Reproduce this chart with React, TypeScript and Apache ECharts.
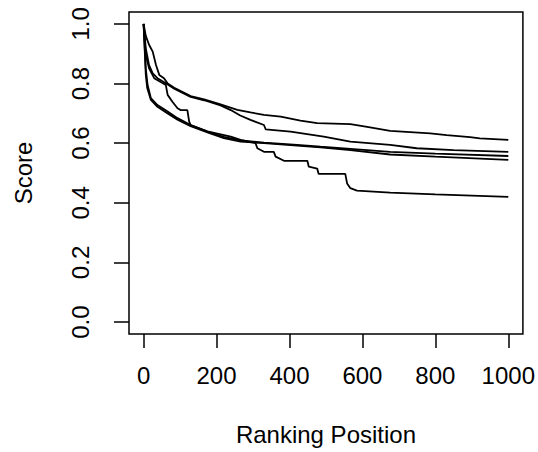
import React, { useEffect, useRef } from "react";
import * as echarts from "echarts";

const xTicks = [0, 200, 400, 600, 800, 1000];
const yTicks = [0, 0.2, 0.4, 0.6, 0.8, 1.0];

const posA = [0, 6, 15, 25, 34, 43, 56, 66, 84, 129, 166, 211, 257, 293, 330, 376, 430, 476, 567, 613, 676, 786, 831, 895, 922, 1000];
const scoreA = [1.0, 0.96, 0.93, 0.907, 0.862, 0.829, 0.818, 0.8, 0.786, 0.758, 0.747, 0.73, 0.712, 0.703, 0.695, 0.689, 0.676, 0.667, 0.664, 0.655, 0.641, 0.633, 0.627, 0.62, 0.616, 0.611];

const posB = [0, 6, 15, 25, 38, 61, 84, 129, 166, 211, 239, 265, 293, 330, 335, 403, 494, 567, 676, 749, 850, 1000];
const scoreB = [1.0, 0.918, 0.862, 0.834, 0.818, 0.801, 0.783, 0.755, 0.744, 0.727, 0.711, 0.693, 0.678, 0.661, 0.646, 0.639, 0.622, 0.605, 0.594, 0.583, 0.577, 0.571];

const posC = [0, 6, 11, 20, 38, 66, 93, 129, 175, 220, 266, 330, 421, 485, 567, 676, 800, 1000];
const scoreC = [1.0, 0.85, 0.795, 0.751, 0.728, 0.706, 0.684, 0.661, 0.639, 0.621, 0.609, 0.602, 0.594, 0.588, 0.581, 0.571, 0.565, 0.557];

const posD = [0, 6, 10, 20, 38, 66, 93, 129, 175, 220, 266, 330, 421, 485, 567, 676, 800, 1000];
const scoreD = [1.0, 0.83, 0.785, 0.745, 0.722, 0.7, 0.679, 0.657, 0.636, 0.617, 0.605, 0.6, 0.592, 0.586, 0.577, 0.562, 0.555, 0.544];

const posE = [0, 6, 15, 29, 61, 66, 79, 93, 102, 120, 125, 129, 175, 239, 266, 307, 312, 330, 357, 362, 385, 449, 453, 476, 480, 553, 558, 567, 585, 676, 800, 1000];
const scoreE = [1.0, 0.896, 0.851, 0.818, 0.795, 0.762, 0.739, 0.717, 0.711, 0.711, 0.672, 0.661, 0.64, 0.622, 0.611, 0.6, 0.583, 0.571, 0.571, 0.555, 0.541, 0.541, 0.521, 0.515, 0.497, 0.497, 0.465, 0.449, 0.441, 0.434, 0.428, 0.42];

const seriesList = [
  { name: "A", pos: posA, score: scoreA },
  { name: "B", pos: posB, score: scoreB },
  { name: "C", pos: posC, score: scoreC },
  { name: "D", pos: posD, score: scoreD },
  { name: "E", pos: posE, score: scoreE },
];

const FONT = "'Liberation Sans', Arial, Helvetica, sans-serif";

export default function App() {
  const ref = useRef<HTMLDivElement>(null);
  useEffect(() => {
    document.body.style.margin = "0";
    if (!ref.current) return;
    const chart = echarts.init(ref.current, null, { renderer: "svg" });
    chart.setOption({
      animation: false,
      backgroundColor: "#ffffff",
      grid: {
        left: 129,
        top: 12,
        right: 15,
        bottom: 118,
        show: true,
        borderColor: "#000",
        borderWidth: 1.5,
        backgroundColor: "transparent",
      },
      xAxis: {
        type: "value",
        min: -40,
        max: 1040,
        name: "Ranking Position",
        nameLocation: "middle",
        nameGap: 88,
        nameTextStyle: { fontFamily: FONT, fontSize: 24, color: "#000" },
        axisLine: { show: false, onZero: false },
        splitLine: { show: false },
        axisTick: {
          show: true,
          length: 14,
          customValues: xTicks,
          lineStyle: { color: "#000", width: 1.5 },
        },
        axisLabel: {
          customValues: xTicks,
          margin: 29,
          fontFamily: FONT,
          fontSize: 24,
          color: "#000",
          formatter: (v: number) => String(v),
        },
      },
      yAxis: {
        type: "value",
        min: -0.04,
        max: 1.04,
        name: "Score",
        nameLocation: "middle",
        nameGap: 94,
        nameTextStyle: { fontFamily: FONT, fontSize: 24, color: "#000" },
        axisLine: { show: false, onZero: false },
        splitLine: { show: false },
        axisTick: {
          show: true,
          length: 15,
          customValues: yTicks,
          lineStyle: { color: "#000", width: 1.5 },
        },
        axisLabel: {
          customValues: yTicks,
          rotate: 90,
          margin: 37,
          fontFamily: FONT,
          fontSize: 24,
          color: "#000",
          formatter: (v: number) => v.toFixed(1),
        },
      },
      series: seriesList.map((s) => ({
        name: s.name,
        type: "line",
        showSymbol: false,
        symbol: "none",
        smooth: false,
        lineStyle: { color: "#000", width: 1.8 },
        data: s.pos.map((p, i) => [p, s.score[i]]),
      })),
    });
    return () => chart.dispose();
  }, []);
  return <div ref={ref} style={{ width: 538, height: 452 }} />;
}
